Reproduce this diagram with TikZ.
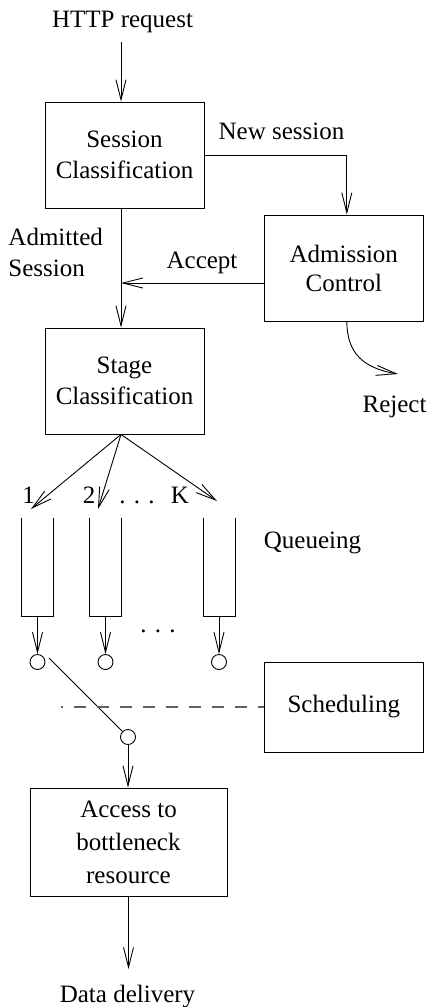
\documentclass[tikz,border=0pt]{standalone}
\usepackage{fontspec}
\setmainfont{Liberation Serif}
\usetikzlibrary{arrows.meta}

\begin{document}
\begin{tikzpicture}[x=1pt, y=-1pt,
  line width=0.9pt,
  every node/.style={font=\fontsize{25}{31}\selectfont},
  >={Straight Barb[length=20pt,width=10pt]},
  block/.style={draw, minimum width=159pt, minimum height=106pt, align=center, inner sep=0pt},
  lbl/.style={inner sep=0pt, anchor=base},
  queue/.style={minimum width=31pt, minimum height=98pt, inner sep=0pt},
  port/.style={draw, circle, minimum size=15pt, inner sep=0pt},
  schedline/.style={draw=black!62, line width=1.2pt, dash pattern=on 12pt off 11pt, dash phase=10pt},
]
\useasboundingbox (0,0) rectangle (430,1007);

% processing blocks
\node[block] (sess) at (124.5,155) {Session\\Classification};
\node[block, font=\fontsize{25}{29}\selectfont] (adm) at (343.8,268) {Admission\\Control};
\node[block] (stage) at (124.5,381) {Stage\\Classification};
\node[block, minimum height=90pt] (sched) at (343.8,707) {Scheduling};
\node[block, minimum width=197pt, minimum height=108pt, font=\fontsize{25}{33}\selectfont] (acc) at (128.5,842) {Access to\\bottleneck\\resource};

% free labels
\node[lbl] (http) at (122.5,27) {HTTP request};
\node[lbl] (news) at (281.5,139) {New session};
\node[lbl, anchor=base west, align=left] (admitted) at (8,276) {Admitted\\Session};
\node[lbl] (accept) at (202,268) {Accept};
\node[lbl] (reject) at (394.5,412) {Reject};
\node[lbl] (l1) at (28.5,503) {1};
\node[lbl] (l2) at (89,503) {2};
\node[lbl] (ldots) at (137,503) {. . .};
\node[lbl] (lK) at (180,503) {K};
\node[lbl] (queueing) at (312.5,548) {Queueing};
\node[lbl] (mdots) at (158,632) {. . .};
\node[lbl] (data) at (127.5,1002) {Data delivery};

% queues (open at the top)
\node[queue] (q1) at (37.5,567) {};
\node[queue] (q2) at (105.5,567) {};
\node[queue] (qK) at (219,567) {};
\foreach \q in {q1,q2,qK}
  \draw (\q.north west) -- (\q.south west) -- (\q.south east) -- (\q.north east);

% queue outputs and the switch
\node[port] (p1) at (37.5,662) {};
\node[port] (p2) at (105.5,662) {};
\node[port] (pK) at (219,662) {};
\node[port] (sw) at (128,737) {};

% helper points
\coordinate (spine) at (121,0);
\coordinate (join) at (121,283);
\coordinate (t1) at (31,509);
\coordinate (t2) at (98,509);
\coordinate (tK) at (217,501);
\coordinate (swfrom) at (49,658);
\coordinate (dashend) at (61,707);
\coordinate (rejtip) at (398,374);

% connectors
\draw[->, shorten <=9.6pt] (http.south -| spine) -- (sess.north -| spine);
\draw[->] (sess.east) -| ([xshift=3pt]adm.north);
\draw[->] ([yshift=-15pt]adm.west) -- (join);
\draw[->] (sess.south -| spine) -- (stage.north -| spine);
\draw[->] ([xshift=3pt]adm.south) .. controls (347,352) and (362,368) .. (rejtip);
\foreach \t in {t1,t2,tK}
  \draw[->] (stage.south -| spine) -- (\t);
\draw[->] (q1.south) -- (p1.north);
\draw[->] (q2.south) -- (p2.north);
\draw[->] (qK.south) -- (pK.north);
\draw (swfrom) -- (sw);
\draw[schedline] (dashend) -- (sched.west);
\draw[->] (sw.south) -- (acc.north -| sw);
\draw[->, shorten >=15pt] (acc.south) -- (acc.south |- data.north);
\end{tikzpicture}
\end{document}
